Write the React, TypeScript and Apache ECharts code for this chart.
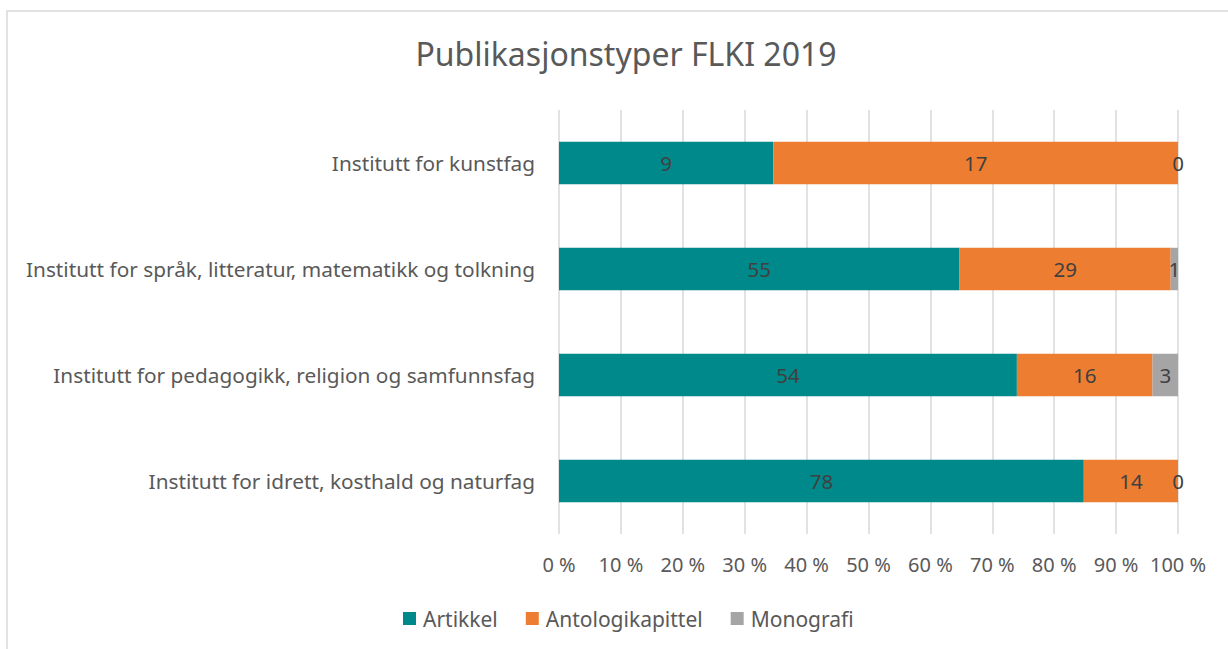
import React, { useEffect, useRef } from "react";
import * as echarts from "echarts";

const categories = [
  "Institutt for idrett, kosthald og naturfag",
  "Institutt for pedagogikk, religion og samfunnsfag",
  "Institutt for språk, litteratur, matematikk og tolkning",
  "Institutt for kunstfag",
];
const seriesNames = ["Artikkel", "Antologikapittel", "Monografi"];
const artikkel = [78, 54, 55, 9];
const antologikapittel = [14, 16, 29, 17];
const monografi = [0, 3, 1, 0];
const colors = ["#00898A", "#ED7D31", "#A5A5A5"];
const xTicks = [0, 10, 20, 30, 40, 50, 60, 70, 80, 90, 100];

const FONT = "'Noto Sans', sans-serif";

export default function App() {
  const ref = useRef<HTMLDivElement>(null);
  useEffect(() => {
    if (!ref.current) return;
    const chart = echarts.init(ref.current, undefined, { renderer: "svg" });
    const raw = [artikkel, antologikapittel, monografi];
    const totals = categories.map((_, i) => raw.reduce((s, a) => s + a[i], 0));
    const series = raw.map((arr, si) => ({
      name: seriesNames[si],
      type: "bar",
      stack: "total",
      barCategoryGap: "60%",
      itemStyle: { color: colors[si] },
      label: {
        show: true,
        position: "inside",
        color: "#404040",
        fontSize: 20.5,
        fontFamily: FONT,
        formatter: (p: any) => String(arr[p.dataIndex]),
      },
      data: arr.map((v, i) => ({ value: (v / totals[i]) * 100 })),
    }));
    chart.setOption({
      animation: false,
      title: {
        text: "Publikasjonstyper FLKI 2019",
        left: 621,
        textAlign: "center",
        top: 32,
        textStyle: { fontSize: 32, fontWeight: "normal", color: "#595959", fontFamily: FONT },
      },
      graphic: [
        {
          type: "rect",
          shape: { x: 7, y: 11, width: 1240, height: 660 },
          style: { fill: "none", stroke: "#d9d9d9", lineWidth: 1.5 },
          z: -1,
        },
      ],
      legend: {
        data: seriesNames,
        bottom: 15,
        left: 398,
        itemWidth: 13,
        itemHeight: 13,
        itemGap: 28,
        icon: "rect",
        textStyle: { fontSize: 21, color: "#595959", fontFamily: FONT, padding: [0, 0, 0, 2] },
      },
      grid: { left: 559, right: 50, top: 110, bottom: 115, containLabel: false },
      xAxis: {
        type: "value",
        min: 0,
        max: 100,
        interval: 10,
        axisLine: { show: false },
        axisTick: { show: false },
        splitLine: { show: true, lineStyle: { color: "#d9d9d9", width: 1.5 } },
        axisLabel: {
          fontSize: 20,
          color: "#595959",
          fontFamily: FONT,
          margin: 20,
          formatter: (v: number) => (xTicks.includes(v) ? `${v} %` : ""),
        },
      },
      yAxis: {
        type: "category",
        data: categories,
        axisLine: { show: false },
        axisTick: { show: false },
        axisLabel: { fontSize: 20.8, color: "#595959", fontFamily: FONT, margin: 24 },
      },
      series,
    });
    return () => chart.dispose();
  }, []);
  return (
    <div
      ref={ref}
      style={{ position: "absolute", left: 0, top: 0, width: 1228, height: 649, background: "#fff" }}
    />
  );
}
